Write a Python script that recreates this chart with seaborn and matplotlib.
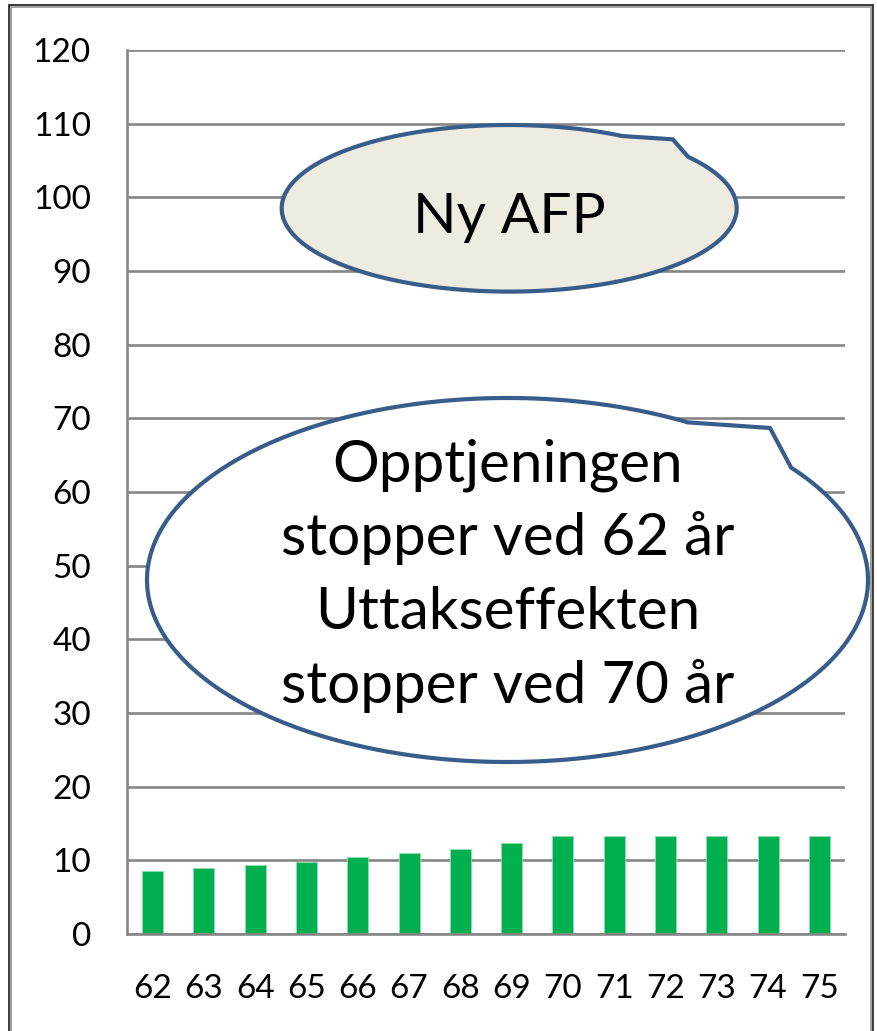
import numpy as np
import matplotlib
matplotlib.use("Agg")
import matplotlib.pyplot as plt
import matplotlib.patches as mpatches
import seaborn as sns

# ---------------------------------- Data -----------------------------------------
ages = [62, 63, 64, 65, 66, 67, 68, 69, 70, 71, 72, 73, 74, 75]
values = [8.5, 8.9, 9.3, 9.8, 10.4, 11.0, 11.6, 12.4, 13.35, 13.35, 13.35, 13.35, 13.35, 13.35]
y_ticks = list(range(0, 121, 10))
bubble_small_text = "Ny AFP"
bubble_big_lines = ["Opptjeningen", "stopper ved 62 år", "Uttakseffekten", "stopper ved 70 år"]

# ---------------------------------- Figure setup -----------------------------------------
W, H = 877, 1031
sns.set_style("white")
plt.rcParams["font.family"] = ["Lato", "DejaVu Sans"]

fig = plt.figure(figsize=(W / 100, H / 100), dpi=100)
fig.patch.set_facecolor("white")


def fx(px):
    return px / W


def fy(py):
    return 1 - py / H


ax = fig.add_axes([fx(127), fy(934), (845 - 127) / W, (934 - 50) / H])

grid_col = "#868686"
sns.barplot(x=[str(a) for a in ages], y=values, color="#00B050", width=0.41,
            edgecolor="#8FDDB0", linewidth=0.6, saturation=1, ax=ax, zorder=3)

ax.set_xlim(-0.5, len(ages) - 0.5)
ax.set_ylim(0, 120)
ax.set_yticks(y_ticks)
ax.set_yticklabels([str(t) for t in y_ticks], fontsize=24, color="black")
ax.yaxis.grid(True, color=grid_col, linewidth=1.9, zorder=0)
ax.set_axisbelow(True)
ax.tick_params(axis="y", length=8, width=1.9, color=grid_col, pad=18)

# category-boundary ticks like the spreadsheet original
ax.set_xticks(np.arange(-0.5, len(ages), 1.0), minor=True)
ax.tick_params(axis="x", which="minor", length=9, width=1.9, color=grid_col, direction="out")
ax.tick_params(axis="x", which="major", length=0, pad=29, labelsize=24, labelcolor="black")
ax.set_xlabel("")
ax.set_ylabel("")

for s in ["top", "right"]:
    ax.spines[s].set_visible(False)
for s in ["left", "bottom"]:
    ax.spines[s].set_color(grid_col)
    ax.spines[s].set_linewidth(1.9)
    ax.spines[s].set_zorder(4)


# ---------------------------------- Callout bubbles -----------------------------------------
def callout(cx, cy, a, b, t1, t2, tip, face):
    t = np.radians(np.linspace(t1, t2 + 360, 300))
    pts = [(fx(cx + a * np.cos(v)), fy(cy - b * np.sin(v))) for v in t]
    pts.append((fx(tip[0]), fy(tip[1])))
    poly = mpatches.Polygon(pts, closed=True, transform=fig.transFigure,
                            facecolor=face, edgecolor="#385D8A", linewidth=3.0,
                            joinstyle="miter", zorder=5)
    fig.patches.append(poly)


callout(509.2, 208.3, 227.5, 83.3, 60.1, 38.1, (672.7, 139.3), "#EEECE1")
fig.text(fx(509), fy(233), bubble_small_text, fontsize=41, ha="center", va="baseline",
         color="black", zorder=6)

callout(507.5, 580, 360.5, 182, 60.0, 38.1, (770, 428), "white")
baselines = [481, 555, 629, 703]
for line, base in zip(bubble_big_lines, baselines):
    fig.text(fx(508), fy(base), line, fontsize=42, ha="center", va="baseline",
             color="black", zorder=6)

# outer frame
fig.patches.append(mpatches.Rectangle((fx(9), fy(1040)), fx(873 - 9), (1040 - 5) / H,
                                      transform=fig.transFigure, fill=False,
                                      edgecolor="#2b2b2b", linewidth=1.3, zorder=7))
fig.patches.append(mpatches.Rectangle((fx(11), fy(1040)), fx(871 - 11), (1040 - 7) / H,
                                      transform=fig.transFigure, fill=False,
                                      edgecolor="#9a9a9a", linewidth=1.3, zorder=7))

fig.savefig("out.png", dpi=100)
